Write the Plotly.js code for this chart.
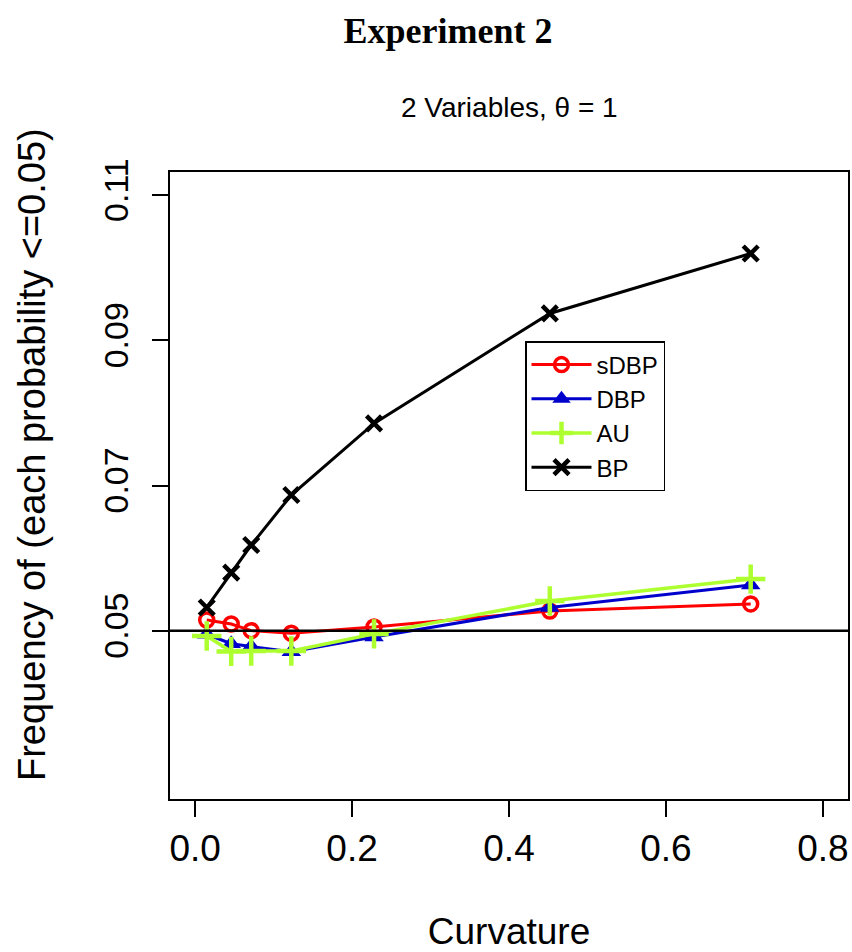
<!DOCTYPE html>
<html>
<head>
<meta charset="utf-8">
<script src="https://cdn.plot.ly/plotly-3.0.1.min.js"></script>
<style>
  html, body { margin: 0; padding: 0; background: #fff; }
  #chart { width: 852px; height: 952px; }
</style>
</head>
<body>
<div id="chart"></div>
<script>
// Data
const curvature = [0.0148, 0.046, 0.0715, 0.1226, 0.228, 0.452, 0.708];
const sDBP = [0.05147, 0.05092, 0.0500, 0.04964, 0.0505, 0.05271, 0.05368];
const DBP  = [0.0495, 0.0482, 0.0478, 0.0471, 0.04913, 0.0532, 0.0563];
const AU   = [0.04927, 0.04714, 0.0472, 0.0472, 0.04955, 0.05408, 0.0571];
const BP   = [0.05319, 0.05799, 0.0618, 0.06869, 0.07856, 0.09371, 0.10197];
const xTicks = [0, 0.2, 0.4, 0.6, 0.8];
const xTickText = ['0.0', '0.2', '0.4', '0.6', '0.8'];
const yTicks = [0.05, 0.07, 0.09, 0.11];
const yTickText = ['0.05', '0.07', '0.09', '0.11'];
const refLevel = 0.05;

const SANS = 'Liberation Sans, Arial, sans-serif';

const traces = [
  {
    x: curvature, y: sDBP, name: 'sDBP', type: 'scatter', mode: 'lines+markers',
    line: { color: '#ff0000', width: 3 },
    marker: { symbol: 'circle-open', size: 14, color: '#ff0000', line: { color: '#ff0000', width: 3.5 } }
  },
  {
    x: curvature, y: DBP, name: 'DBP', type: 'scatter', mode: 'lines+markers',
    line: { color: '#0000cd', width: 3 },
    marker: { symbol: 'triangle-up', size: 17, color: '#0000cd' }
  },
  {
    x: curvature, y: AU, name: 'AU', type: 'scatter', mode: 'lines+markers',
    line: { color: '#adff2f', width: 3.5 },
    marker: { symbol: 'cross-thin', size: 21, color: '#adff2f', line: { color: '#adff2f', width: 4.5 } }
  },
  {
    x: curvature, y: BP, name: 'BP', type: 'scatter', mode: 'lines+markers',
    line: { color: '#000000', width: 3 },
    marker: { symbol: 'x-thin', size: 15, color: '#000000', line: { color: '#000000', width: 4.5 } }
  }
];

const layout = {
  width: 852, height: 952,
  paper_bgcolor: '#ffffff', plot_bgcolor: '#ffffff',
  margin: { l: 170, r: 4, t: 172, b: 153 },
  showlegend: true,
  title: {
    text: '<b>Experiment 2</b>',
    font: { family: 'Liberation Serif, Times New Roman, serif', size: 36, color: '#000' },
    x: 448 / 852, xanchor: 'center', xref: 'container',
    y: 1 - 30 / 952, yanchor: 'middle', yref: 'container'
  },
  annotations: [
    {
      text: '2 Variables, θ = 1', showarrow: false,
      xref: 'paper', yref: 'paper', x: 0.5, xanchor: 'center',
      y: (799 - 108) / 627, yanchor: 'middle',
      font: { family: SANS, size: 28, color: '#000' }
    },
    {
      text: 'Frequency of (each probability <=0.05)', showarrow: false, textangle: -90,
      xref: 'paper', yref: 'paper',
      x: (32 - 170) / 678, xanchor: 'center',
      y: (799 - 455) / 627, yanchor: 'middle',
      font: { family: SANS, size: 38, color: '#000' }
    }
  ],
  xaxis: {
    range: [-0.032, 0.832],
    tickvals: xTicks, ticktext: xTickText,
    ticks: 'outside', ticklen: 16, tickwidth: 2, tickcolor: '#000',
    showline: true, linecolor: '#000', linewidth: 2, mirror: true,
    showgrid: false, zeroline: false,
    tickfont: { family: SANS, size: 37, color: '#000' },
    title: { text: 'Curvature', font: { family: SANS, size: 37, color: '#000' }, standoff: 62 }
  },
  yaxis: {
    range: [0.0268, 0.1132],
    tickvals: yTicks, ticktext: yTickText,
    tickangle: -90,
    ticks: 'outside', ticklen: 16, tickwidth: 2, tickcolor: '#000',
    showline: true, linecolor: '#000', linewidth: 2, mirror: true,
    showgrid: false, zeroline: false,
    ticklabelstandoff: 10,
    tickfont: { family: SANS, size: 34, color: '#000' }
  },
  legend: {
    x: (525 - 170) / 678, xanchor: 'left',
    y: (799 - 341) / 627, yanchor: 'top',
    bgcolor: '#ffffff', bordercolor: '#000', borderwidth: 1.5,
    font: { family: SANS, size: 24, color: '#000' },
    itemwidth: 60,
    tracegroupgap: 0
  },
  shapes: [
    {
      type: 'line', xref: 'paper', x0: 0, x1: 1, yref: 'y', y0: refLevel, y1: refLevel,
      line: { color: '#000', width: 2.5 }
    }
  ]
};

Plotly.newPlot('chart', traces, layout, { displayModeBar: false, staticPlot: true });
</script>
</body>
</html>
